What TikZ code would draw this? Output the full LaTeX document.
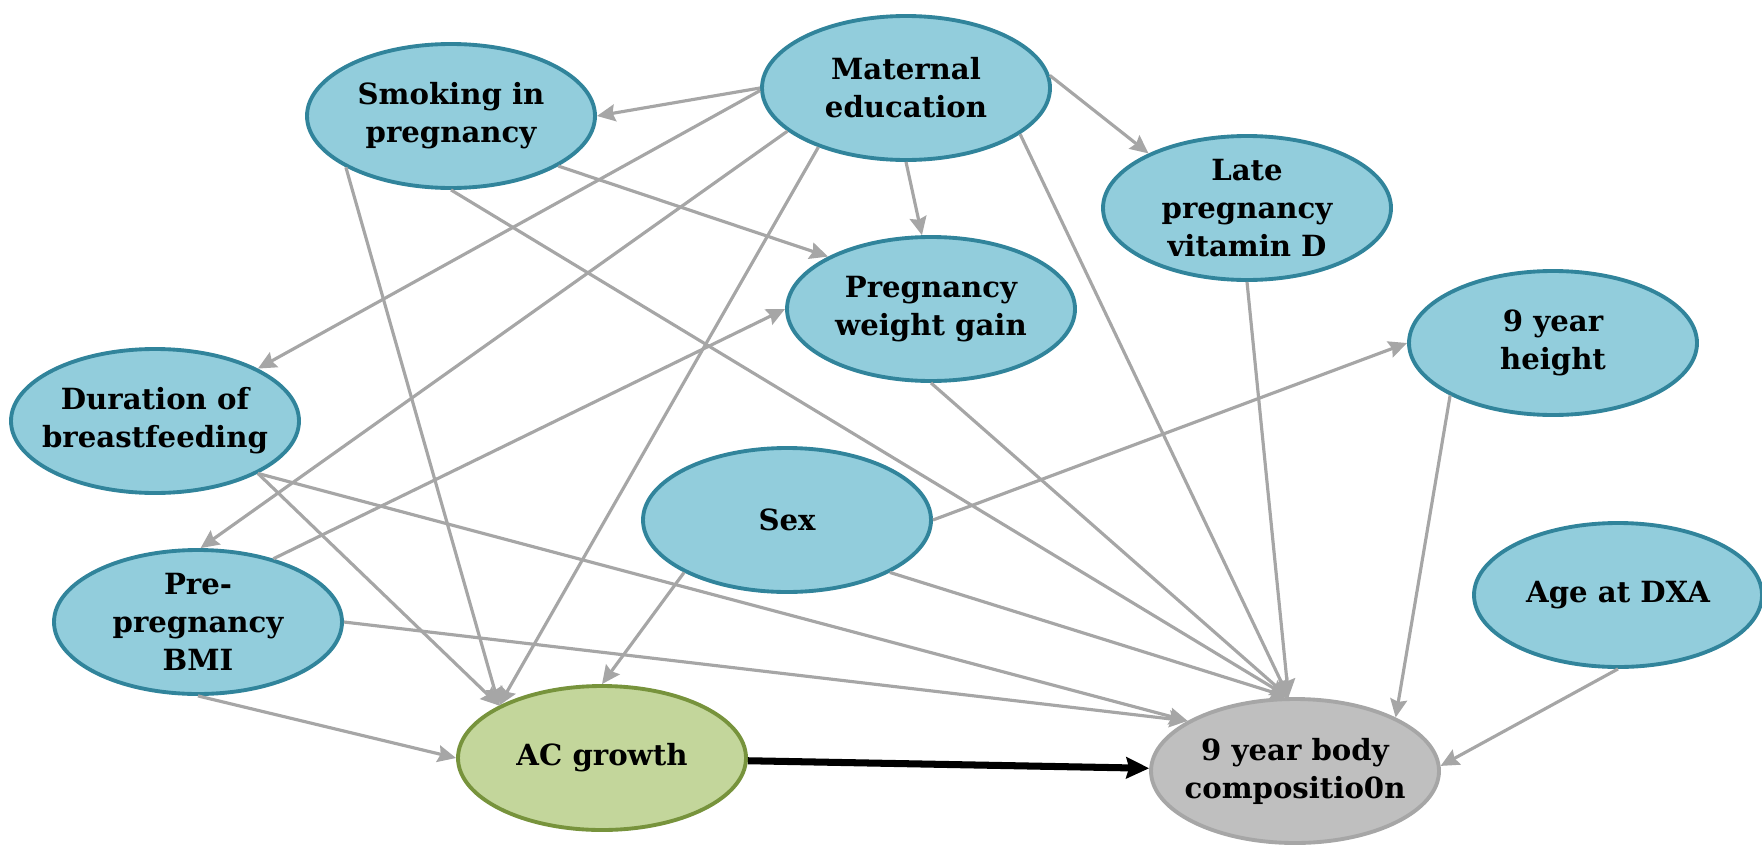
\documentclass[tikz,border=0pt]{standalone}
\usepackage{fontspec}
\setmainfont{DejaVu Serif}
\usetikzlibrary{shapes.geometric,arrows.meta}

\definecolor{varfill}{HTML}{92CDDC}
\definecolor{vardraw}{HTML}{31849B}
\definecolor{acfill}{HTML}{C3D69B}
\definecolor{acdraw}{HTML}{77933C}
\definecolor{bcfill}{HTML}{BFBFBF}
\definecolor{bcdraw}{HTML}{A6A6A6}
\definecolor{linkgray}{HTML}{A6A6A6}

\begin{document}
\begin{tikzpicture}[x=0.1mm, y=-0.1mm,
		var/.style={ellipse, draw=vardraw, fill=varfill, line width=1.1pt,
			minimum width=2.88cm, minimum height=1.44cm, inner xsep=-4mm, inner ysep=-4mm,
			align=center, font=\bfseries\fontsize{8.3}{10.8}\selectfont},
		acvar/.style={var, draw=acdraw, fill=acfill},
		bcvar/.style={var, draw=bcdraw, fill=bcfill},
		link/.style={draw=linkgray, line width=0.9pt, -{Stealth[length=5.2pt,width=4.8pt,inset=0.7pt]}},
	]
	\useasboundingbox (0,0) rectangle (1762,845);

	% variables
	\node[var] (smoke) at (451,116) {Smoking in\\pregnancy};
	\node[var] (mated) at (906,88) {Maternal\\education};
	\node[var] (vitd) at (1247,208) {Late\\pregnancy\\vitamin D};
	\node[var] (pwg) at (931,309) {Pregnancy\\weight gain};
	\node[var] (ht9) at (1553,343) {9 year\\height};
	\node[var] (bf) at (155,421) {Duration of\\breastfeeding};
	\node[var] (sex) at (787,520) {Sex};
	\node[var] (dxa) at (1618,595) {Age at DXA};
	\node[var] (bmi) at (198,622) {Pre-\\pregnancy\\BMI};
	\node[acvar] (acg) at (602,758) {AC growth};
	\node[bcvar] (bc9) at (1295,771) {9 year body\\compositio0n};

	% maternal education
	\draw[link] (mated.west) -- (smoke.east);
	\draw[link] (mated.181) -- (bf.27);
	\draw[link] (mated.200) -- (bmi.88);
	\draw[link] (mated.214) -- (acg.153);
	\draw[link] (mated.south) -- (pwg.97);
	\draw[link] (mated.5) -- (vitd.151);

	% into AC growth
	\draw[link] (smoke.206) -- (acg.153);
	\draw[link] (bf.333) -- (acg.153);
	\draw[link] (sex.207) -- (acg.north);
	\draw[link] (bmi.south) -- (acg.west);

	% into 9 year body composition
	\foreach \src in {mated.338, smoke.south, pwg.south, vitd.south, sex.333}
		\draw[link] (\src) -- (bc9.95);
	\draw[link] (bf.333) -- (bc9.155);
	\draw[link] (bmi.east) -- (bc9.155);
	\draw[link] (ht9.207) -- (bc9.28);
	\draw[link] (dxa.south) -- (bc9.2);

	% others
	\draw[link] (smoke.335) -- (pwg.153);
	\draw[link] (bmi.40) -- (pwg.west);
	\draw[link] (sex.east) -- (ht9.west);

	\draw[line width=2pt, -{Stealth[length=6.5pt,width=6pt,inset=0.8pt]}] (acg) -- (bc9);
\end{tikzpicture}
\end{document}
